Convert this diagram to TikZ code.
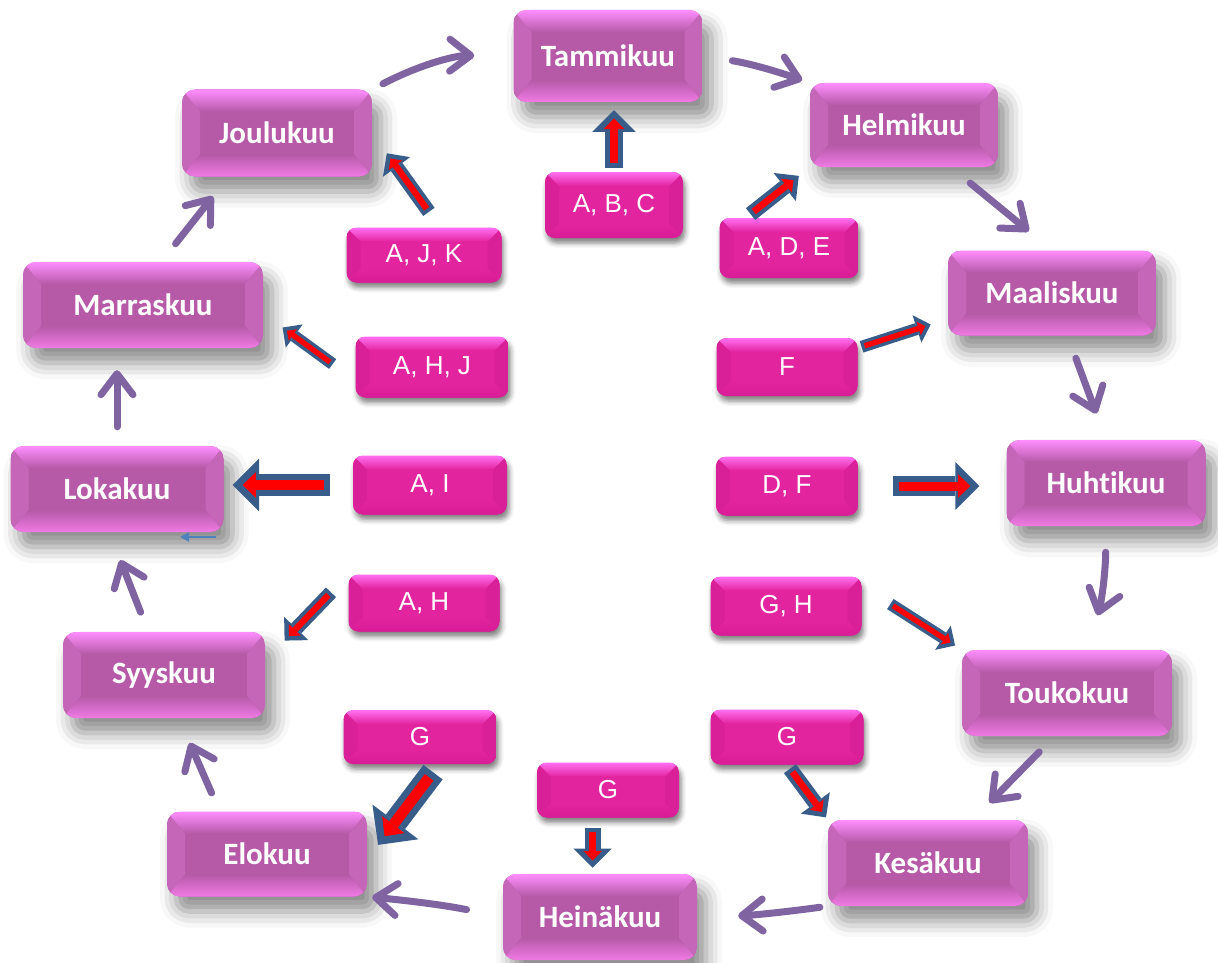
\documentclass[tikz,border=0pt]{standalone}
\usepackage{fontspec}
\setmainfont{Carlito}[Ligatures=NoCommon]
\newfontfamily\letterfont{Liberation Sans}
\usetikzlibrary{arrows.meta,calc,shadows.blur}

\definecolor{monthtop}{HTML}{FF8EFF}
\definecolor{monthbody}{HTML}{B65AA8}
\definecolor{monthbot}{HTML}{F07AE4}
\definecolor{monthside}{HTML}{C566B9}
\definecolor{crittop}{HTML}{FF70F2}
\definecolor{critbody}{HTML}{E3249F}
\definecolor{critbot}{HTML}{D81C96}
\definecolor{critside}{HTML}{D92098}
\definecolor{ringpurple}{HTML}{8064A2}
\definecolor{arrblue}{HTML}{385D8A}
\definecolor{strayblue}{HTML}{4F81BD}

% bevelled face: top, body, bottom, side colour, inset x, inset y
\tikzset{bevel/.style n args={6}{path picture={
  \begin{scope}[sharp corners]
  \path (path picture bounding box.south west) coordinate (bsw)
        (path picture bounding box.north east) coordinate (bne)
        (bsw -| bne) coordinate (bse) (bsw |- bne) coordinate (bnw);
  \fill[#2] (bsw) rectangle (bne);
  \fill[#4] (bnw) -- ([shift={(#5,-#6)}]bnw) -- ([shift={(#5,#6)}]bsw) -- (bsw) -- cycle;
  \fill[#4] (bne) -- ([shift={(-#5,-#6)}]bne) -- ([shift={(-#5,#6)}]bse) -- (bse) -- cycle;
  \shade[top color=#1, bottom color=#2] (bnw) -- (bne) -- ([shift={(-#5,-#6)}]bne) -- ([shift={(#5,-#6)}]bnw) -- cycle;
  \shade[top color=#2, bottom color=#3] ([shift={(#5,#6)}]bsw) -- ([shift={(-#5,#6)}]bse) -- (bse) -- (bsw) -- cycle;
  \end{scope}}}}

\tikzstyle{month}=[rounded corners=13pt, inner sep=0pt, text=white,
  font=\fontsize{31}{36}\selectfont\bfseries,
  blur shadow={shadow xshift=9pt, shadow yshift=-15pt, shadow blur radius=16pt, shadow opacity=45},
  bevel={monthtop}{monthbody}{monthbot}{monthside}{18pt}{22pt}]
\tikzstyle{crit}=[rounded corners=10pt, inner sep=0pt, text=white,
  font=\letterfont\fontsize{26}{30}\selectfont,
  blur shadow={shadow xshift=2pt, shadow yshift=-5pt, shadow blur radius=5pt, shadow opacity=50},
  bevel={crittop}{critbody}{critbot}{critside}{14pt}{14pt}]
\tikzstyle{ring}=[draw=ringpurple, line width=7pt, line cap=round,
  -{Straight Barb[round, length=21pt, width=32pt]}]
\tikzstyle{blkout}=[draw=arrblue, -{Triangle[length=0pt 1.2, width=0pt 2.4, line width=0pt]}]
\tikzstyle{blkin}=[draw=red, -{Triangle[length=0pt 1.35, width=0pt 2.6, line width=0pt]}]
\tikzstyle{stray}=[draw=strayblue, line width=2pt, -{Triangle[length=9pt, width=9pt]}]

\begin{document}
\begin{tikzpicture}[x=1pt,y=-1pt]
    \useasboundingbox (0,0) rectangle (1218,963);
    % The twelve months round the ring
    \foreach \pos/\w/\h/\name/\txt in {{(608,56)/189/92/tammi/Tammikuu}, {(904,125)/188/84/helm/Helmikuu},
        {(1052,293)/208/85/maal/Maaliskuu}, {(1106,483)/199/86/huhti/Huhtikuu}, {(1067,693)/210/86/touko/Toukokuu},
        {(928,863)/200/86/kesa/Kesäkuu}, {(600,917)/194/86/hein/Heinäkuu}, {(267,854)/200/85/elo/Elokuu},
        {(164,675)/202/86/syys/Syyskuu}, {(117,489)/213/86/loka/Lokakuu}, {(143,305)/240/86/marras/Marraskuu},
        {(277,133)/190/87/joulu/Joulukuu}}
        \node[month, minimum width=\w pt, minimum height=\h pt] (\name) at \pos {\txt};

    % The letter boxes inside the ring
    \foreach \pos/\w/\h/\name/\txt in {{(614,205)/138/66/abc/{A, B, C}}, {(789,248)/139/60/ade/{A, D, E}},
        {(787,367)/141/58/f/F}, {(787,486)/142/59/df/{D, F}}, {(786,606)/151/59/gh/{G, H}},
        {(787,737)/153/55/gr/G}, {(608,790)/142/55/gb/G}, {(420,737)/153/54/gl/G},
        {(424,603)/151/57/ah/{A, H}}, {(430,485)/154/59/ai/{A, I}}, {(432,367)/153/61/ahj/{A, H, J}},
        {(424,255)/155/55/ajk/{A, J, K}}}
        \node[crit, minimum width=\w pt, minimum height=\h pt] (\name) at \pos {\txt};

    % Ring arrows from month to month
    \foreach \a/\b/\sa/\sb/\bend in {{joulu.north east/tammi.west/12/39/14}, {tammi.east/helm.north west/30/8/5},
        {helm.-42/maal.north/25/30/0}, {maal.-70/huhti.north/24/28/0}, {huhti.south/touko.65/26/36/8},
        {touko.254/kesa.44/22/24/0}, {kesa.south west/hein.east/8/41/3}, {hein.west/elo.south east/37/5/-3},
        {elo.138/syys.-71/20/27/0}, {syys.110/loka.260/21/30/0}, {loka.north/loka.north |- marras.south/19/22/0},
        {marras.67/joulu.222/23/25/0}}
        \draw[ring, shorten <=\sa pt, shorten >=\sb pt] (\a) to[bend left=\bend] (\b);

    % Block arrows from letters to months
    \foreach \src/\dst/\w/\sa/\sb in {{abc.north/abc.north |- tammi.south/18/4/8}, {ade.145/helm.south west/15/6/14},
        {f.15/maal.194/12/4/18}, {df.east/df.east -| huhti.west/20/35/27}, {gh.15/touko.north west/12/34/8},
        {gr.south/kesa.north west/15/5/3}, {gb.241/gb.241 |- hein.north/16/10/6}, {gl.-55/elo.-3/24/10/18},
        {ah.north west/syys.8/14/25/28}, {ai.west/ai.west -| loka.east/22/23/9}, {ahj.190/marras.-4/12/28/24},
        {ajk.60/joulu.east/14/19/25}}{
        \pgfmathsetmacro{\rw}{0.45*\w}
        \pgfmathsetmacro{\ra}{\sa+0.27*\w}
        \pgfmathsetmacro{\rb}{\sb+0.45*\w}
        \draw[blkout, line width=\w pt, shorten <=\sa pt, shorten >=\sb pt] (\src) -- (\dst);
        \draw[blkin, line width=\rw pt, shorten <=\ra pt, shorten >=\rb pt] (\src) -- (\dst);
    }

    % small arrow under Lokakuu
    \coordinate (stray tail) at (216,537);
    \coordinate (stray head) at (180,537);
    \draw[stray] (stray tail) -- (stray head);
\end{tikzpicture}
\end{document}
